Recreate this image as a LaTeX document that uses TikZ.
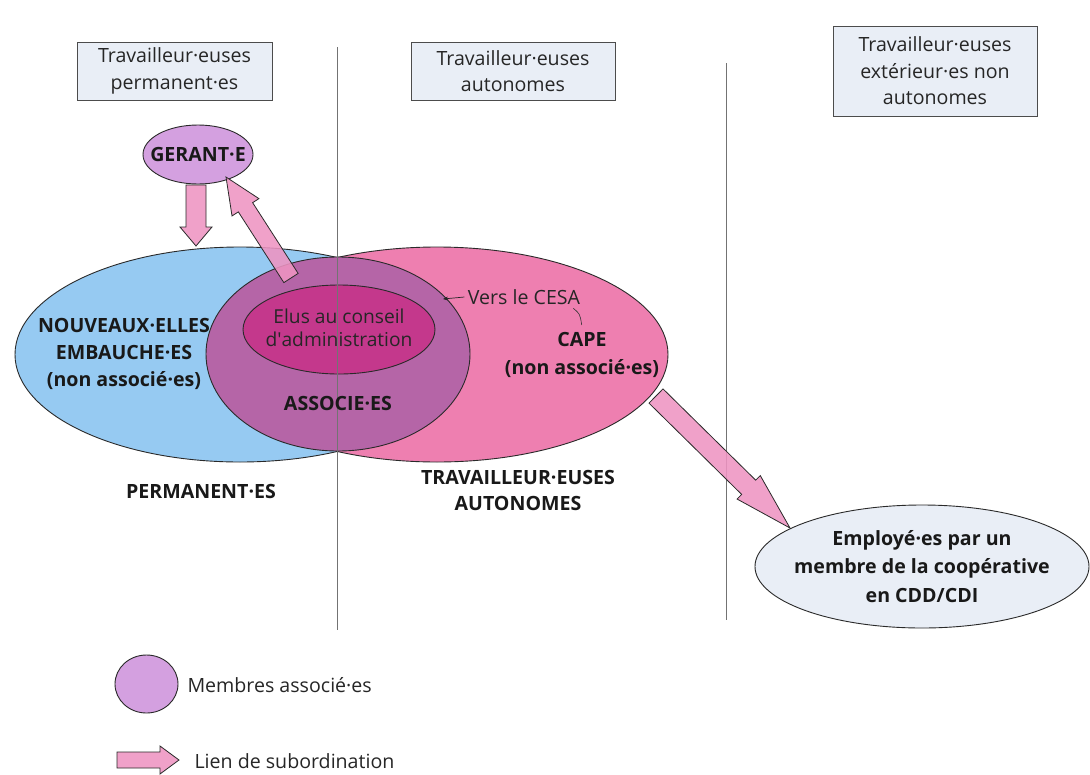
\documentclass[tikz,border=0pt]{standalone}
\usepackage{fontspec}
\setmainfont{Open Sans}
\usetikzlibrary{shapes.geometric,calc,arrows.meta}
\definecolor{cblue}{HTML}{96CAF2}
\definecolor{cpink}{HTML}{EE7FB0}
\definecolor{cpurple}{HTML}{B565A7}
\definecolor{cmagenta}{HTML}{C4388C}
\definecolor{clilac}{HTML}{D4A0E0}
\definecolor{carrow}{HTML}{EE94C2}
\definecolor{cbox}{HTML}{E9EEF6}
\definecolor{cline}{HTML}{2A2A2A}
\newcommand\blkarrow[6][]{%
  \coordinate (ah) at ($(#3)!#6!(#2)$);
  \draw[barrow,#1] ($(#2)!#4!90:(#3)$) -- ($(ah)!#4!-90:(#2)$) -- ($(ah)!#5!-90:(#2)$) -- (#3) -- ($(ah)!#5!90:(#2)$) -- ($(ah)!#4!90:(#2)$) -- ($(#2)!#4!-90:(#3)$) -- cycle;}
\begin{document}
\begin{tikzpicture}[x=1pt,y=-1pt,
  outl/.style={draw=cline, line width=0.9pt},
  hbox/.style={draw=black!70, line width=0.9pt, fill=cbox, align=center, inner sep=0pt,
     font=\fontsize{19.6}{26.5}\selectfont, text=black!85},
  lab/.style={align=center, font=\fontsize{19.6}{26}\selectfont, text=black!85},
  blab/.style={align=center, font=\bfseries\fontsize{19.6}{27}\selectfont, text=black!90},
  elab/.style={align=center, font=\fontsize{19.2}{23}\selectfont, text=black!85},
  sep/.style={draw=black!55, line width=0.8pt},
  barrow/.style={draw=cline, line width=0.8pt, fill=carrow, fill opacity=0.88, draw opacity=1},
  ell/.style={ellipse, outl, inner sep=0pt}]
\useasboundingbox (0,0) rectangle (1090,774);
\fill[white] (0,0) rectangle (1090,774);

% header boxes
\node[hbox, minimum width=195pt, minimum height=58pt] (h1) at (174.5,71) {Travailleur·euses\\permanent·es};
\node[hbox, minimum width=204pt, minimum height=58pt] (h2) at (513,71) {Travailleur·euses\\autonomes};
\node[hbox, minimum width=204pt, minimum height=90pt] (h3) at (935,71) {Travailleur·euses\\extérieur·es non\\autonomes};

% blue and pink halves
\begin{scope}
  \clip (0,0) rectangle (337,774);
  \draw[outl, fill=cblue] (240,354.5) ellipse [x radius=225, y radius=107.5];
\end{scope}
\begin{scope}
  \clip (337,0) rectangle (1090,774);
  \draw[outl, fill=cpink] (437,354.5) ellipse [x radius=231, y radius=107.5];
\end{scope}
\node[ell, fill=cpurple, minimum width=264pt, minimum height=194pt] (assoc) at (338,354) {};
\node[ell, fill=cmagenta, minimum width=192pt, minimum height=89pt] (elus) at (339,329.5) {};

% separators
\coordinate (s1a) at (337,47); \coordinate (s1b) at (337,630);
\coordinate (s2a) at (726,63); \coordinate (s2b) at (726,620);
\draw[sep] (s1a) -- (s1b);
\draw[sep] (s2a) -- (s2b);

% gerant
\node[ell, fill=clilac, minimum width=110pt, minimum height=59pt] (ger) at (198,154.5) {};
\node[blab] (gerlab) at (ger.center) {GERANT·E};

% labels
\node[blab] (nouv) at (124,354) {NOUVEAUX·ELLES\\EMBAUCHE·ES\\(non associé·es)};
\node[blab] (asslab) at (338,403) {ASSOCIE·ES};
\node[elab] (eluslab) at (339,328) {Elus au conseil\\d\textquotesingle administration};
\node[blab, font=\bfseries\fontsize{19.6}{28.5}\selectfont] (cape) at (582,355) {CAPE\\(non associé·es)};
\node[lab] (cesa) at (524,297) {Vers le CESA};
\coordinate (cesaend) at (443,299);
\draw[-{Stealth[length=5pt,width=4pt]}, line width=0.7pt, black!85] (cesa.west) -- (cesaend);
\coordinate (cc1) at (573.3,308.3); \coordinate (cc2) at (581.7,325);
\draw[black!80, line width=0.6pt] (cc1) .. controls (580,314) .. (cc2);
\node[blab] (perm) at (201,491) {PERMANENT·ES};
\node[blab, font=\bfseries\fontsize{19.6}{26}\selectfont] (trav) at (518,490) {TRAVAILLEUR·EUSES\\AUTONOMES};

% employees ellipse
\node[ell, fill=cbox, minimum width=334pt, minimum height=123pt] (empl) at (922,566.5) {};
\node[blab, font=\bfseries\fontsize{19.6}{28.5}\selectfont] (empllab) at (empl.center) {Employé·es par un\\membre de la coopérative\\en CDD/CDI};

% subordination arrows
\coordinate (a1t) at (196,185); \coordinate (a1h) at (196,246);
\blkarrow{a1t}{a1h}{10pt}{16pt}{19pt}
\coordinate (a2t) at (291,278); \coordinate (a2h) at (226,177);
\blkarrow{a2t}{a2h}{8.5pt}{16pt}{36pt}
\coordinate (a3t) at (656,396); \coordinate (a3h) at (790,528);
\blkarrow{a3t}{a3h}{10pt}{16.5pt}{58pt}

% legend
\node[ell, fill=clilac, minimum width=63pt, minimum height=58pt] (legell) at (146.5,684) {};
\node[lab, anchor=west] (legt1) at (184,685) {Membres associé·es};
\coordinate (la1) at (117,760); \coordinate (la2) at (179,760);
\blkarrow{la1}{la2}{8pt}{14pt}{19pt}
\node[lab, anchor=west] (legt2) at (191,761) {Lien de subordination};
\end{tikzpicture}
\end{document}
